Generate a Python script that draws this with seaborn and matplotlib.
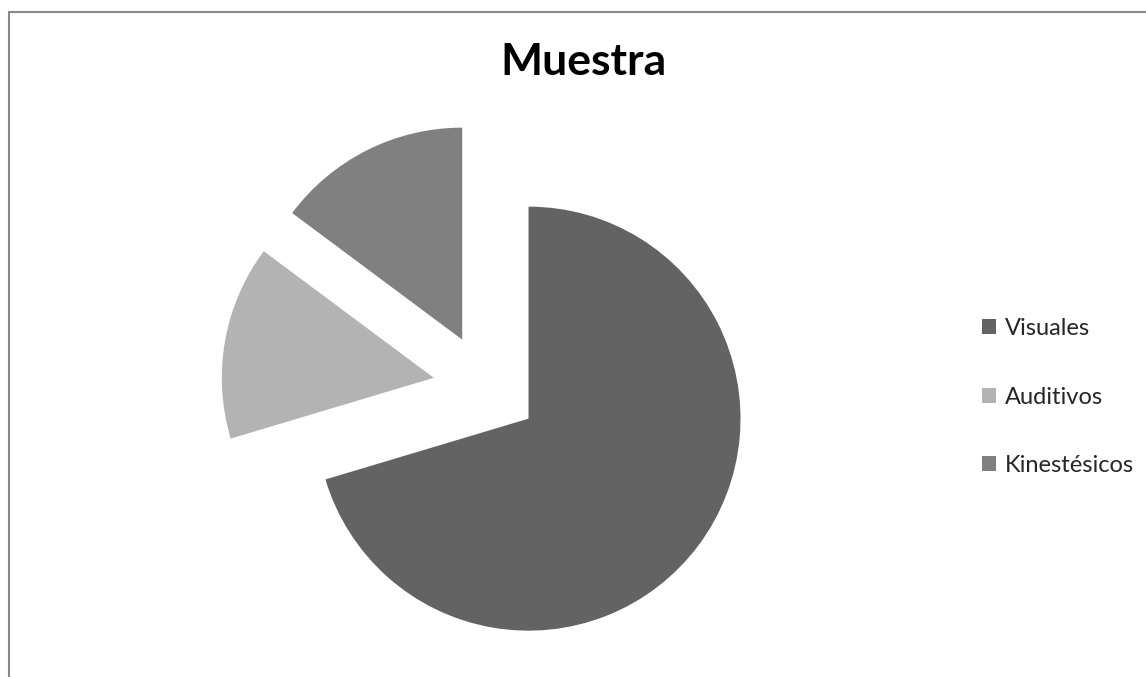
import numpy as np
import matplotlib
matplotlib.use("Agg")
import matplotlib.pyplot as plt
import matplotlib.patches as mpatches
from matplotlib.lines import Line2D
import seaborn as sns

# data
categories = ["Visuales", "Auditivos", "Kinestésicos"]
counts = [19, 4, 4]
colors = ["#636363", "#b3b3b3", "#808080"]

sns.set_theme(style="white")
plt.rcParams["font.family"] = ["Lato", "DejaVu Sans"]

W, H = 1146, 677
fig = plt.figure(figsize=(W / 100, H / 100), dpi=100)
fig.patch.set_facecolor("white")

# pie: center (486, 387) px, radius 212 px, limits +-1.3
R = 212
cx, cy = 486, 387
half = 1.3 * R
ax = fig.add_axes([(cx - half) / W, (H - cy - half) / H, 2 * half / W, 2 * half / H])
wedges, _ = ax.pie(
    counts,
    colors=sns.color_palette(colors),
    startangle=90,
    counterclock=False,
    explode=[0.25, 0.25, 0.25],
    radius=1,
    wedgeprops=dict(linewidth=0),
)
ax.set_xlim(-1.3, 1.3)
ax.set_ylim(-1.3, 1.3)
ax.axis("off")

# title
fig.text(584 / W, 1 - 75 / H, "Muestra", ha="center", va="baseline",
         fontsize=32, fontweight="bold", color="black")

# legend
handles = [mpatches.Patch(facecolor=c, edgecolor="none") for c in colors]
fig.legend(
    handles, categories,
    loc="center left", bbox_to_anchor=(982 / W, 1 - 397 / H),
    frameon=False, fontsize=17,
    handlelength=0.6, handleheight=0.6, handletextpad=0.35,
    labelspacing=2.0, borderpad=0, borderaxespad=0,
)

# chart border (top and left visible)
fig.add_artist(Line2D([8.5 / W, 1], [1 - 11.5 / H, 1 - 11.5 / H],
                      transform=fig.transFigure, color="#898989", linewidth=1.5))
fig.add_artist(Line2D([8.5 / W, 8.5 / W], [0, 1 - 11.5 / H],
                      transform=fig.transFigure, color="#898989", linewidth=1.5))

fig.savefig("out.png", dpi=100, facecolor="white")
